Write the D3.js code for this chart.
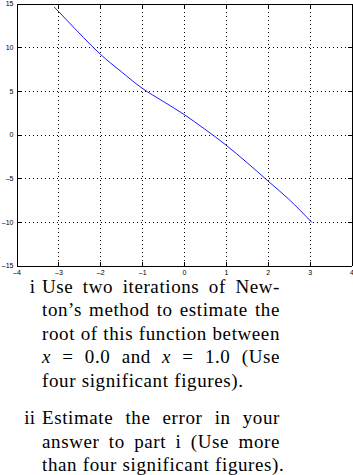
<!DOCTYPE html>
<html>
<head>
<meta charset="utf-8">
<script src="https://cdn.jsdelivr.net/npm/d3@7"></script>
<style>
  body { margin:0; background:#fff; }
  svg { display:block; }
</style>
</head>
<body>
<script>
// curve
var xVals = [-3.1, -2.8, -2.4, -2.0, -1.5, -1.0, -0.5, 0.0, 0.5, 1.0, 1.5, 2.0, 2.5, 3.06];
var yVals = [14.6, 13.1, 11.1, 9.2, 7.2, 5.3, 3.8, 2.3, 0.6, -1.2, -3.2, -5.3, -7.4, -10.1];

var xTicks = [-4, -3, -2, -1, 0, 1, 2, 3, 4];
var yTicks = [-15, -10, -5, 0, 5, 10, 15];
var xGrid = [-3, -2, -1, 0, 1, 2, 3];
var yGrid = [-10, -5, 0, 5, 10];

// question text, one entry per printed line
var itemLabels = ['i', 'ii'];
var itemLines = [
  ['Use two iterations of New-',
   'ton\u2019s method to estimate the',
   'root of this function between',
   'x = 0.0 and x = 1.0 (Use',
   'four significant figures).'],
  ['Estimate the error in your',
   'answer to part i (Use more',
   'than four significant figures).']
];
var itemBaselines = [[292.5, 316, 339.5, 363, 386.5], [424, 447.5, 471]];

var width = 353, height = 475;

var svg = d3.select('body').append('svg')
  .attr('width', width)
  .attr('height', height);

var xScale = d3.scaleLinear().domain([-4, 4]).range([16.5, 351.5]);
var yScale = d3.scaleLinear().domain([-15, 15]).range([265.5, 3.5]);

var g = svg.append('g');

// dotted grid
g.selectAll('.vgrid').data(xGrid).enter().append('line')
  .attr('class', 'vgrid')
  .attr('x1', function(d){ return Math.round(xScale(d)) + 0.5; })
  .attr('x2', function(d){ return Math.round(xScale(d)) + 0.5; })
  .attr('y1', yScale(15)).attr('y2', yScale(-15))
  .attr('stroke', '#000').attr('stroke-dasharray', '1,3')
  .attr('shape-rendering', 'crispEdges');
g.selectAll('.hgrid').data(yGrid).enter().append('line')
  .attr('class', 'hgrid')
  .attr('y1', function(d){ return Math.round(yScale(d)) + 0.5; })
  .attr('y2', function(d){ return Math.round(yScale(d)) + 0.5; })
  .attr('x1', xScale(-4)).attr('x2', xScale(4))
  .attr('stroke', '#000').attr('stroke-dasharray', '1,3')
  .attr('shape-rendering', 'crispEdges');

// curve
var pts = xVals.map(function(x, i){ return [x, yVals[i]]; });
var line = d3.line()
  .x(function(d){ return xScale(d[0]); })
  .y(function(d){ return yScale(d[1]); })
  .curve(d3.curveMonotoneX);
g.append('path').datum(pts)
  .attr('d', line)
  .attr('fill', 'none')
  .attr('stroke', '#0000ff')
  .attr('stroke-width', 0.9);

// axes, ticks pointing inwards
function styleAxis(sel) {
  sel.selectAll('path, line').attr('stroke', '#000').attr('shape-rendering', 'crispEdges');
  sel.selectAll('text').attr('font-family', 'Liberation Sans, Arial, sans-serif')
    .attr('font-size', 7).attr('fill', '#000');
}
function fmt(d){ return d < 0 ? '\u2013' + (-d) : d; }

var axBottom = svg.append('g').attr('transform', 'translate(0,' + yScale(-15) + ')')
  .call(d3.axisBottom(xScale).tickValues(xTicks).tickSizeInner(-4).tickSizeOuter(0)
    .tickPadding(4.5).tickFormat(fmt));
styleAxis(axBottom);

var axLeft = svg.append('g').attr('transform', 'translate(' + xScale(-4) + ',0)')
  .call(d3.axisLeft(yScale).tickValues(yTicks).tickSizeInner(-4).tickSizeOuter(0)
    .tickPadding(3).tickFormat(fmt));
styleAxis(axLeft);

var axTop = svg.append('g').attr('transform', 'translate(0,' + yScale(15) + ')')
  .call(d3.axisTop(xScale).tickValues(xTicks).tickSizeInner(-4).tickSizeOuter(0).tickFormat(''));
styleAxis(axTop);

var axRight = svg.append('g').attr('transform', 'translate(' + xScale(4) + ',0)')
  .call(d3.axisRight(yScale).tickValues(yTicks).tickSizeInner(-4).tickSizeOuter(0).tickFormat(''));
styleAxis(axRight);

// question text, justified word by word
var textLeft = 42, textRight = 280, fontSize = 19;
var txt = svg.append('g')
  .attr('font-family', 'Liberation Serif, Times New Roman, serif')
  .attr('font-size', fontSize)
  .attr('letter-spacing', 0.6)
  .attr('fill', '#000');

itemLines.forEach(function(lines, p){
  txt.append('text')
    .attr('x', 35.5).attr('y', itemBaselines[p][0])
    .attr('text-anchor', 'end')
    .attr('letter-spacing', 0.4)
    .text(itemLabels[p]);

  lines.forEach(function(s, li){
    var words = s.split(' ');
    var nodes = words.map(function(w){
      var t = txt.append('text').attr('y', itemBaselines[p][li]).text(w);
      if (w === 'x') t.attr('font-style', 'italic');
      return t;
    });
    var widths = nodes.map(function(t){ return t.node().getComputedTextLength(); });
    var total = d3.sum(widths);
    var isLast = li === lines.length - 1;
    var gap = isLast ? fontSize * 0.3 : (textRight - textLeft - total) / (words.length - 1);
    var xPos = textLeft;
    nodes.forEach(function(t, i){
      t.attr('x', xPos);
      xPos += widths[i] + gap;
    });
  });
});
</script>
</body>
</html>
